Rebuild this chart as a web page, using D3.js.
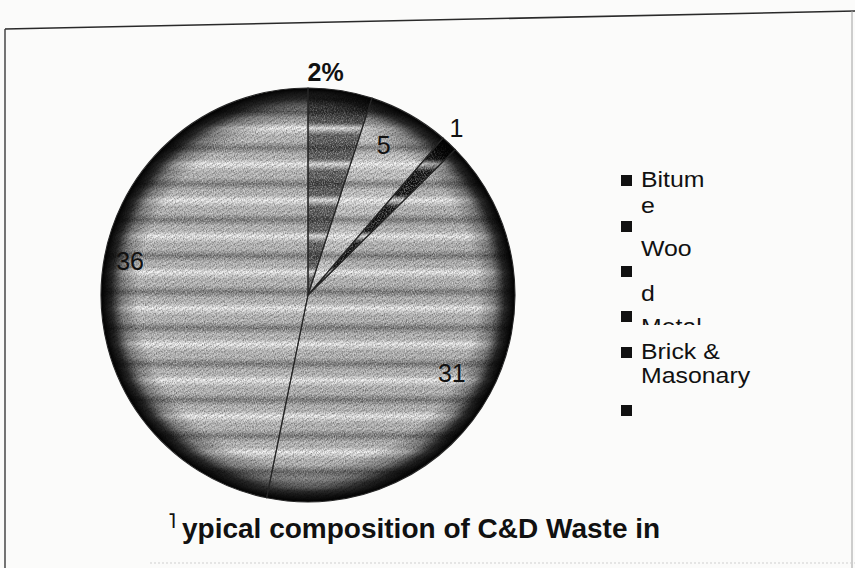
<!DOCTYPE html>
<html>
<head>
<meta charset="utf-8">
<script src="https://cdn.jsdelivr.net/npm/d3@7/dist/d3.min.js"></script>
<style>
  html, body { margin: 0; padding: 0; background: #fbfbfa; }
  svg { display: block; }
  text { font-family: "Liberation Sans", Arial, sans-serif; fill: #111; }
</style>
</head>
<body>
<svg id="chart" width="855" height="568"></svg>
<script>
// ---------- data ----------
const categories  = ["Bitumen", "Wood", "Metal", "Brick & Masonary", "Others"];
const shares      = [5.0, 6.3, 1.3, 40.6, 46.8];          // slice sizes as drawn (share of circle)
const sliceLabels = ["2%", "5", "1", "31", "36"];          // labels printed on the chart
const sliceTones  = ["#5c5c5c", "#cacaca", "#141414", "#b9b9b9", "#bdbdbd"];
const legendLines  = ["Bitum", "e", "", "Woo", "", "d", "Metal", "Brick &", "Masonary", ""];
const legendSquare = [true, false, true, false, true, false, true, true, false, true];
const titleLead = "\u02E5";
const titleText = "ypical composition of C&D Waste in";

// ---------- layout ----------
const cx = 308, cy = 295, R = 207;
const labelPlace = [ {t: 0.25, rf: 1.08}, {t: 0.39, rf: 0.81}, {t: 0.20, rf: 1.08}, {t: 0.50, rf: 0.79}, {t: 0.53, rf: 0.875} ];
const labelWeight = ["bold", "normal", "normal", "normal", "normal"];
const legendBaselines = [187, 213, 233, 256, 278, 301, 334, 359, 383, 418];
const legendSquareY   = [175, null, 221, null, 266, null, 311, 347, null, 405];

const svg = d3.select("#chart");
const defs = svg.append("defs");

defs.append("clipPath").attr("id", "disc")
  .append("circle").attr("cx", cx).attr("cy", cy).attr("r", R);

// horizontal banding (scan artefact)
const band = defs.append("linearGradient").attr("id", "bandGrad")
  .attr("x1", 0).attr("y1", 0).attr("x2", 0).attr("y2", 1);
[["0%", "#ffffff", 0.9], ["20%", "#ffffff", 0.0], ["38%", "#000000", 0.0], ["55%", "#000000", 0.36], ["72%", "#000000", 0.0], ["86%", "#ffffff", 0.0], ["100%", "#ffffff", 0.9]]
  .forEach(s => band.append("stop").attr("offset", s[0]).attr("stop-color", s[1]).attr("stop-opacity", s[2]));
const pat = defs.append("pattern").attr("id", "bands")
  .attr("patternUnits", "userSpaceOnUse").attr("x", 0).attr("y", 200).attr("width", 855).attr("height", 36);
pat.append("rect").attr("width", 855).attr("height", 36).attr("fill", "url(#bandGrad)");

// diagonal hatching of the scan
const hatch = defs.append("pattern").attr("id", "hatch")
  .attr("patternUnits", "userSpaceOnUse").attr("width", 4).attr("height", 4)
  .attr("patternTransform", "rotate(-30)");
hatch.append("rect").attr("width", 4).attr("height", 1.3).attr("fill", "#000").attr("opacity", 0.16);

// grain
const grain = defs.append("filter").attr("id", "grain").attr("x", 0).attr("y", 0).attr("width", 1).attr("height", 1);
grain.append("feTurbulence").attr("type", "fractalNoise").attr("baseFrequency", "0.9 0.6").attr("numOctaves", 2).attr("seed", 7).attr("result", "n");
grain.append("feColorMatrix").attr("in", "n").attr("type", "matrix")
  .attr("values", "0 0 0 0 0  0 0 0 0 0  0 0 0 0 0  2.4 0 0 0 -1.0");
const grainW = defs.append("filter").attr("id", "grainW").attr("x", 0).attr("y", 0).attr("width", 1).attr("height", 1);
grainW.append("feTurbulence").attr("type", "fractalNoise").attr("baseFrequency", "0.9 0.6").attr("numOctaves", 2).attr("seed", 21).attr("result", "n");
grainW.append("feColorMatrix").attr("in", "n").attr("type", "matrix")
  .attr("values", "0 0 0 0 1  0 0 0 0 1  0 0 0 0 1  2.4 0 0 0 -1.0");

// dark rim
const rim = defs.append("radialGradient").attr("id", "rim")
  .attr("cx", cx).attr("cy", cy).attr("r", R).attr("gradientUnits", "userSpaceOnUse");
[["0%", 0], ["82%", 0.0], ["90%", 0.32], ["95%", 0.8], ["100%", 1]]
  .forEach(s => rim.append("stop").attr("offset", s[0]).attr("stop-color", "#000").attr("stop-opacity", s[1]));

// ---------- frame ----------
svg.append("line").attr("x1", 5).attr("y1", 29).attr("x2", 855).attr("y2", 11)
  .attr("stroke", "#2a2a2a").attr("stroke-width", 1.6);
svg.append("line").attr("x1", 5).attr("y1", 29).attr("x2", 5).attr("y2", 568)
  .attr("stroke", "#3a3a3a").attr("stroke-width", 1.4);
svg.append("line").attr("x1", 852).attr("y1", 11).attr("x2", 852).attr("y2", 568)
  .attr("stroke", "#a0a0a0").attr("stroke-width", 1);
svg.append("line").attr("x1", 150).attr("y1", 563).attr("x2", 855).attr("y2", 563)
  .attr("stroke", "#cfcfcf").attr("stroke-width", 1).attr("stroke-dasharray", "2,2");

// ---------- pie ----------
const pieData = d3.pie().sort(null).value(d => d)(shares);
const arc = d3.arc().innerRadius(0).outerRadius(R);
const gPie = svg.append("g").attr("transform", `translate(${cx},${cy})`);

gPie.selectAll("path.slice").data(pieData).join("path")
  .attr("class", "slice")
  .attr("d", arc)
  .attr("fill", (d, i) => sliceTones[i]);

const tex = svg.append("g").attr("clip-path", "url(#disc)");
const box = sel => sel.attr("x", cx - R).attr("y", cy - R).attr("width", 2 * R).attr("height", 2 * R);
tex.append("rect").call(box).attr("fill", "url(#bands)");
tex.append("rect").call(box).attr("fill", "url(#hatch)");
tex.append("rect").call(box).attr("filter", "url(#grain)").attr("opacity", 0.35);
tex.append("rect").call(box).attr("filter", "url(#grainW)").attr("opacity", 0.45);
tex.append("circle").attr("cx", cx).attr("cy", cy).attr("r", R).attr("fill", "url(#rim)");

const gOver = svg.append("g").attr("transform", `translate(${cx},${cy})`);
gOver.selectAll("path.edge").data(pieData).join("path")
  .attr("class", "edge")
  .attr("d", arc)
  .attr("fill", "none")
  .attr("stroke", "#262626")
  .attr("stroke-width", 1.1);

gOver.selectAll("text.lbl").data(pieData).join("text")
  .attr("class", "lbl")
  .attr("transform", (d, i) => {
    const a = d.startAngle + labelPlace[i].t * (d.endAngle - d.startAngle);
    const r = labelPlace[i].rf * R;
    return `translate(${r * Math.sin(a)},${-r * Math.cos(a)})`;
  })
  .attr("text-anchor", "middle")
  .attr("dominant-baseline", "central")
  .attr("font-size", 25)
  .attr("font-weight", (d, i) => labelWeight[i])
  .text((d, i) => sliceLabels[i]);

// ---------- legend ----------
defs.append("clipPath").attr("id", "metalClip")
  .append("rect").attr("x", 0).attr("y", 300).attr("width", 200).attr("height", 25);
const leg = svg.append("g");
legendLines.forEach((t, i) => {
  if (legendSquare[i]) {
    leg.append("rect").attr("x", 621).attr("y", legendSquareY[i]).attr("width", 11).attr("height", 11).attr("fill", "#111");
  }
  if (t) {
    const tx = leg.append("text")
      .attr("transform", `translate(641,${legendBaselines[i]}) scale(1.13,1)`)
      .attr("font-size", 22).text(t);
    if (i === 6) tx.attr("clip-path", "url(#metalClip)")
      .attr("transform", `translate(641,0) scale(1.13,1)`).attr("y", legendBaselines[i]);
  }
});

// ---------- title ----------
svg.append("text").attr("x", 168).attr("y", 528)
  .attr("font-family", "DejaVu Sans").attr("font-weight", "bold").attr("font-size", 21).text(titleLead);
svg.append("text").attr("x", 182).attr("y", 538)
  .attr("font-size", 28).attr("font-weight", "bold").text(titleText);
</script>
</body>
</html>
